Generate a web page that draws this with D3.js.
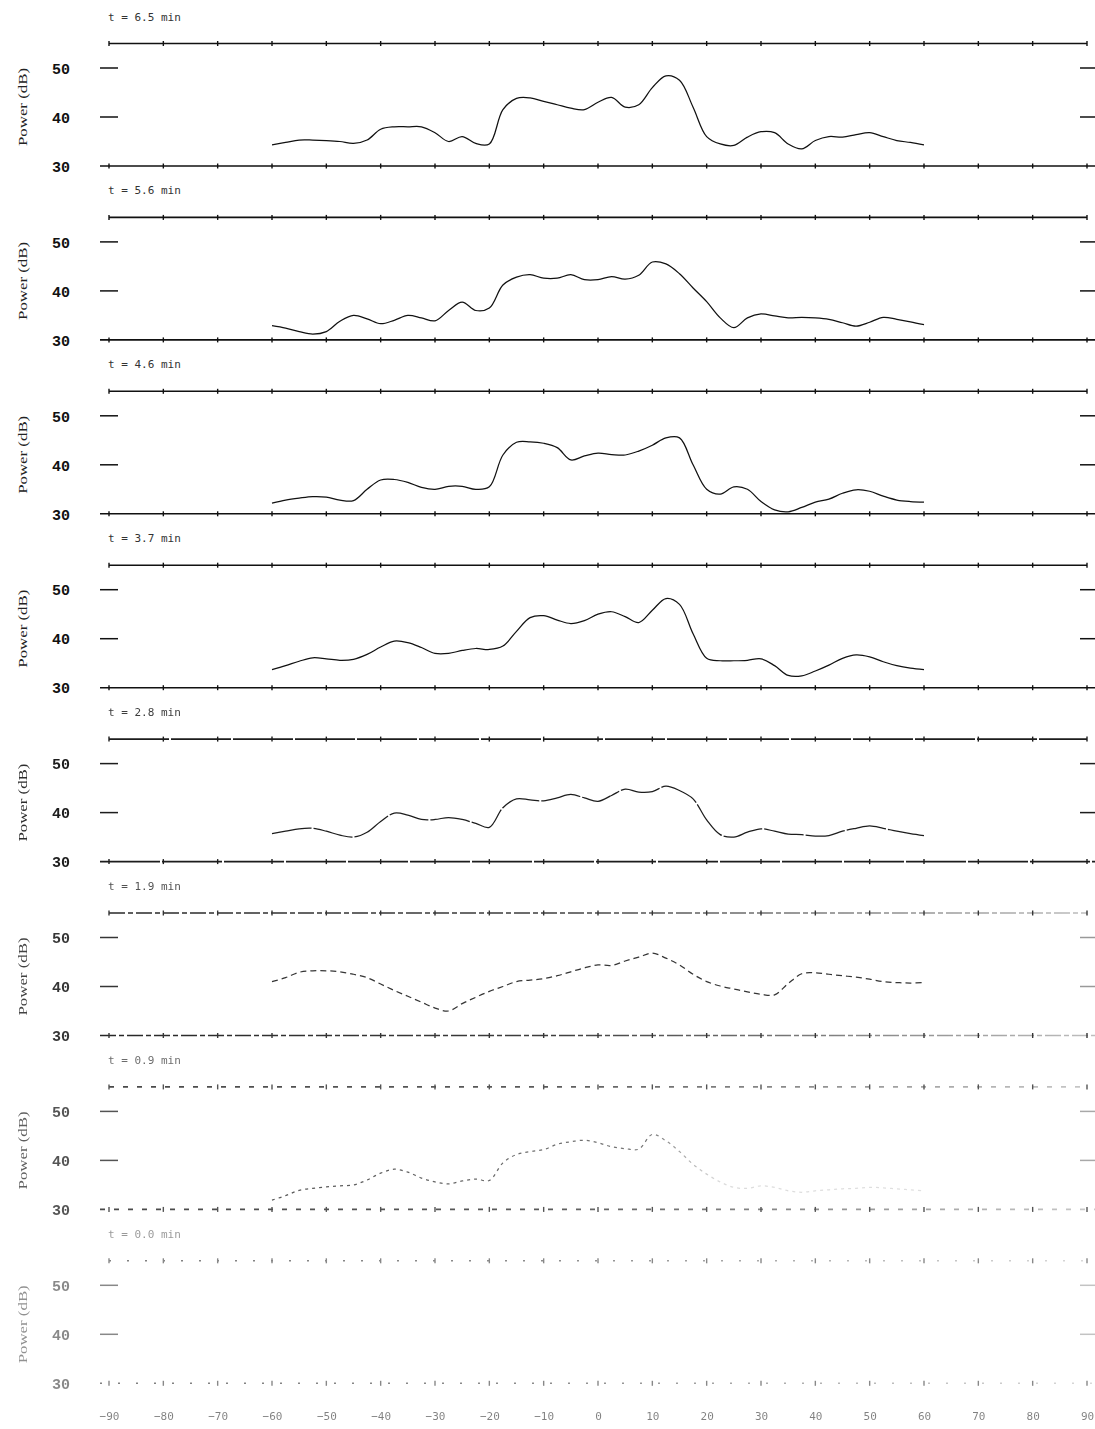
<!DOCTYPE html>
<html><head><meta charset="utf-8">
<script src="https://cdn.jsdelivr.net/npm/d3@7"></script>
<style>body{margin:0;background:#fff} svg{display:block}</style>
</head><body>
<svg id="c" width="1095" height="1429"></svg>
<script>
// ---------- data ----------
const xTicks = [-90,-80,-70,-60,-50,-40,-30,-20,-10,0,10,20,30,40,50,60,70,80,90];
const xGrid = [-60,-57.5,-55,-52.5,-50,-47.5,-45,-42.5,-40,-37.5,-35,-32.5,-30,-27.5,-25,-22.5,-20,-17.5,-15,-12.5,-10,-7.5,-5,-2.5,0,2.5,5,7.5,10,12.5,15,17.5,20,22.5,25,27.5,30,32.5,35,37.5,40,42.5,45,47.5,50,52.5,55,57.5,60];
const yTicks = [30,40,50];
const panelTimes = ["6.5","5.6","4.6","3.7","2.8","1.9","0.9","0.0"];

const power65 = [34.3,34.8,35.3,35.3,35.2,35.0,34.6,35.3,37.5,38.0,38.0,38.0,36.8,35.0,36.0,34.6,34.5,41.5,43.8,43.9,43.2,42.5,41.8,41.5,43.0,44.0,42.0,42.5,46.0,48.4,47.5,42.0,36.0,34.5,34.2,35.9,37.0,36.8,34.5,33.5,35.2,36.0,35.9,36.4,36.8,36.0,35.2,34.8,34.3];
const power56 = [32.9,32.4,31.7,31.2,31.7,33.8,35.0,34.3,33.3,34.0,35.0,34.5,33.9,36.0,37.7,36.0,36.5,41.2,42.8,43.3,42.6,42.6,43.3,42.3,42.3,42.9,42.4,43.2,45.9,45.5,43.5,40.6,37.8,34.5,32.5,34.5,35.3,34.9,34.5,34.6,34.5,34.2,33.5,32.8,33.6,34.6,34.2,33.7,33.1];
const power46 = [32.2,32.8,33.2,33.5,33.4,32.8,32.7,35.0,36.9,37.0,36.4,35.4,35.0,35.6,35.6,35.0,35.5,42.0,44.6,44.7,44.4,43.5,41.0,41.8,42.4,42.1,42.0,42.8,44.0,45.5,45.5,40.0,35.0,34.0,35.5,35.0,32.5,30.8,30.4,31.3,32.4,33.0,34.2,34.9,34.6,33.6,32.8,32.5,32.4];
const power37 = [33.7,34.5,35.4,36.1,35.9,35.6,35.8,36.8,38.3,39.5,39.2,38.2,37.0,37.0,37.6,38.0,37.8,38.5,41.5,44.3,44.7,43.8,43.1,43.7,45.0,45.5,44.5,43.3,45.8,48.2,47.0,41.0,36.0,35.5,35.5,35.6,35.9,34.5,32.5,32.4,33.4,34.6,36.0,36.7,36.3,35.3,34.5,34.0,33.7];
const power28 = [35.7,36.2,36.7,36.8,36.2,35.4,35.0,36.0,38.2,39.9,39.5,38.6,38.6,39.0,38.6,37.8,37.0,41.0,42.8,42.6,42.4,43.0,43.7,43.0,42.3,43.5,44.8,44.2,44.3,45.4,44.5,42.8,38.5,35.5,35.0,36.0,36.7,36.2,35.6,35.5,35.2,35.3,36.2,36.8,37.3,36.8,36.2,35.7,35.3];
const power19 = [41.0,41.8,42.9,43.2,43.2,43.0,42.5,41.8,40.5,39.2,38.0,36.8,35.6,35.0,36.5,37.8,39.0,40.0,41.0,41.3,41.6,42.2,43.0,43.8,44.4,44.3,45.2,46.0,46.8,45.8,44.4,42.5,41.0,40.1,39.5,38.9,38.4,38.3,40.6,42.6,42.8,42.5,42.2,41.9,41.5,41.0,40.8,40.7,40.8];
const power09 = [31.9,32.8,33.9,34.3,34.6,34.8,35.0,36.0,37.4,38.2,37.6,36.4,35.6,35.2,35.8,36.2,35.9,39.5,41.2,41.8,42.2,43.3,43.8,44.1,43.6,42.8,42.4,42.3,45.3,44.0,41.8,39.2,37.2,35.6,34.5,34.3,34.8,34.5,33.8,33.5,33.8,34.0,34.2,34.3,34.5,34.4,34.2,34.0,33.8];
const seriesList = [power65,power56,power46,power37,power28,power19,power09,null];

// ---------- drawing ----------
const svg = d3.select("#c");
const W = 1095;
const x = d3.scaleLinear().domain([-90,90]).range([109,1087]);
const bottom0 = 166, step = 173.9, pxPerDb = 4.9;

// fading of the scan towards the bottom (styling only)
const inkOpacity = [1,1,1,1,0.95,0.85,0.72,0.5];
const frameDash  = [null,null,null,null,"60,2","16,3,5,3","5,9","2,16"];
const dataDash   = [null,null,null,null,"40,2","6,4","3,4",null];

const defs = svg.append("defs");
const grad = defs.append("linearGradient").attr("id","fadeR").attr("gradientUnits","userSpaceOnUse")
  .attr("x1",100).attr("x2",1095).attr("y1",0).attr("y2",0);
grad.append("stop").attr("offset","0").attr("stop-color","#000").attr("stop-opacity",1);
grad.append("stop").attr("offset","0.45").attr("stop-color","#000").attr("stop-opacity",0.9);
grad.append("stop").attr("offset","1").attr("stop-color","#000").attr("stop-opacity",0.3);
const grad2 = defs.append("linearGradient").attr("id","fadeR2").attr("gradientUnits","userSpaceOnUse")
  .attr("x1",100).attr("x2",1095).attr("y1",0).attr("y2",0);
grad2.append("stop").attr("offset","0").attr("stop-color","#000").attr("stop-opacity",1);
grad2.append("stop").attr("offset","0.55").attr("stop-color","#000").attr("stop-opacity",0.75);
grad2.append("stop").attr("offset","0.62").attr("stop-color","#000").attr("stop-opacity",0.2);
grad2.append("stop").attr("offset","1").attr("stop-color","#000").attr("stop-opacity",0.15);

panelTimes.forEach((t,i)=>{
  const b = bottom0 + i*step;
  const y = d3.scaleLinear().domain([30,55]).range([b, b - 25*pxPerDb]);
  const g = svg.append("g").attr("opacity", inkOpacity[i]);
  const frameStroke = i >= 5 ? "url(#fadeR)" : "#111";

  // title
  g.append("text").attr("x",108).attr("y", y(55) - 23)
    .attr("font-family","DejaVu Sans Mono").attr("font-size",11).attr("fill","#333")
    .attr("xml:space","preserve")
    .text(`t = ${t} min`);

  // frame lines
  g.append("line").attr("x1",x(-90)).attr("x2",x(90)).attr("y1",y(55)).attr("y2",y(55))
    .attr("stroke",frameStroke).attr("stroke-width",1.6).attr("stroke-dasharray",frameDash[i]);
  g.append("line").attr("x1",100).attr("x2",W).attr("y1",y(30)).attr("y2",y(30))
    .attr("stroke",frameStroke).attr("stroke-width",1.6).attr("stroke-dasharray",frameDash[i]);

  // tick crosses on frame lines
  [55,30].forEach(v=>{
    g.selectAll(null).data(xTicks).join("line")
      .attr("x1",d=>x(d)).attr("x2",d=>x(d))
      .attr("y1",y(v)-2.5).attr("y2",y(v)+2.5)
      .attr("stroke","#111").attr("stroke-width",1.4);
  });

  // y ticks (left and right) for 40, 50
  g.selectAll(null).data(yTicks.filter(v=>v>30)).join("line")
    .attr("x1",100).attr("x2",118).attr("y1",d=>y(d)).attr("y2",d=>y(d))
    .attr("stroke","#111").attr("stroke-width",1.5);
  g.selectAll(null).data(yTicks.filter(v=>v>30)).join("line")
    .attr("x1",1080).attr("x2",W).attr("y1",d=>y(d)).attr("y2",d=>y(d))
    .attr("stroke","#111").attr("stroke-width",1.5).attr("opacity", i>=5?0.5:1);

  // y tick labels via axis
  const ax = g.append("g").attr("transform",`translate(109,0)`)
    .call(d3.axisLeft(y).tickValues(yTicks).tickSize(0).tickPadding(39).tickFormat(d3.format("d")));
  ax.select(".domain").remove();
  ax.selectAll("text").attr("font-family","Liberation Mono").attr("font-weight","bold")
    .attr("font-size",15).attr("fill","#111").attr("dy","0.35em");

  // y axis title
  g.append("text").attr("transform",`translate(27,${b-59}) rotate(-90)`)
    .attr("text-anchor","middle").attr("font-family","Liberation Serif").attr("font-size",13)
    .attr("fill","#222").attr("textLength",78).attr("lengthAdjust","spacingAndGlyphs")
    .text("Power (dB)");

  // data line
  const s = seriesList[i];
  if (s) {
    const line = d3.line().x((d,k)=>x(xGrid[k])).y(d=>y(d)).curve(d3.curveCatmullRom.alpha(0.5));
    g.append("path").datum(s).attr("d",line).attr("fill","none")
      .attr("stroke", i===6 ? "url(#fadeR2)" : "#111")
      .attr("stroke-width",1.25).attr("stroke-linejoin","round")
      .attr("stroke-dasharray",dataDash[i]);
  }

  // x tick labels on last panel
  if (i === panelTimes.length-1) {
    const xa = g.append("g").attr("transform",`translate(0,${y(30)})`)
      .call(d3.axisBottom(x).tickValues(xTicks).tickSize(0).tickPadding(29).tickFormat(d3.format("d")));
    xa.select(".domain").remove();
    xa.selectAll("text").attr("font-family","DejaVu Sans Mono").attr("font-size",11).attr("fill","#000");
  }
});
</script>
</body></html>
